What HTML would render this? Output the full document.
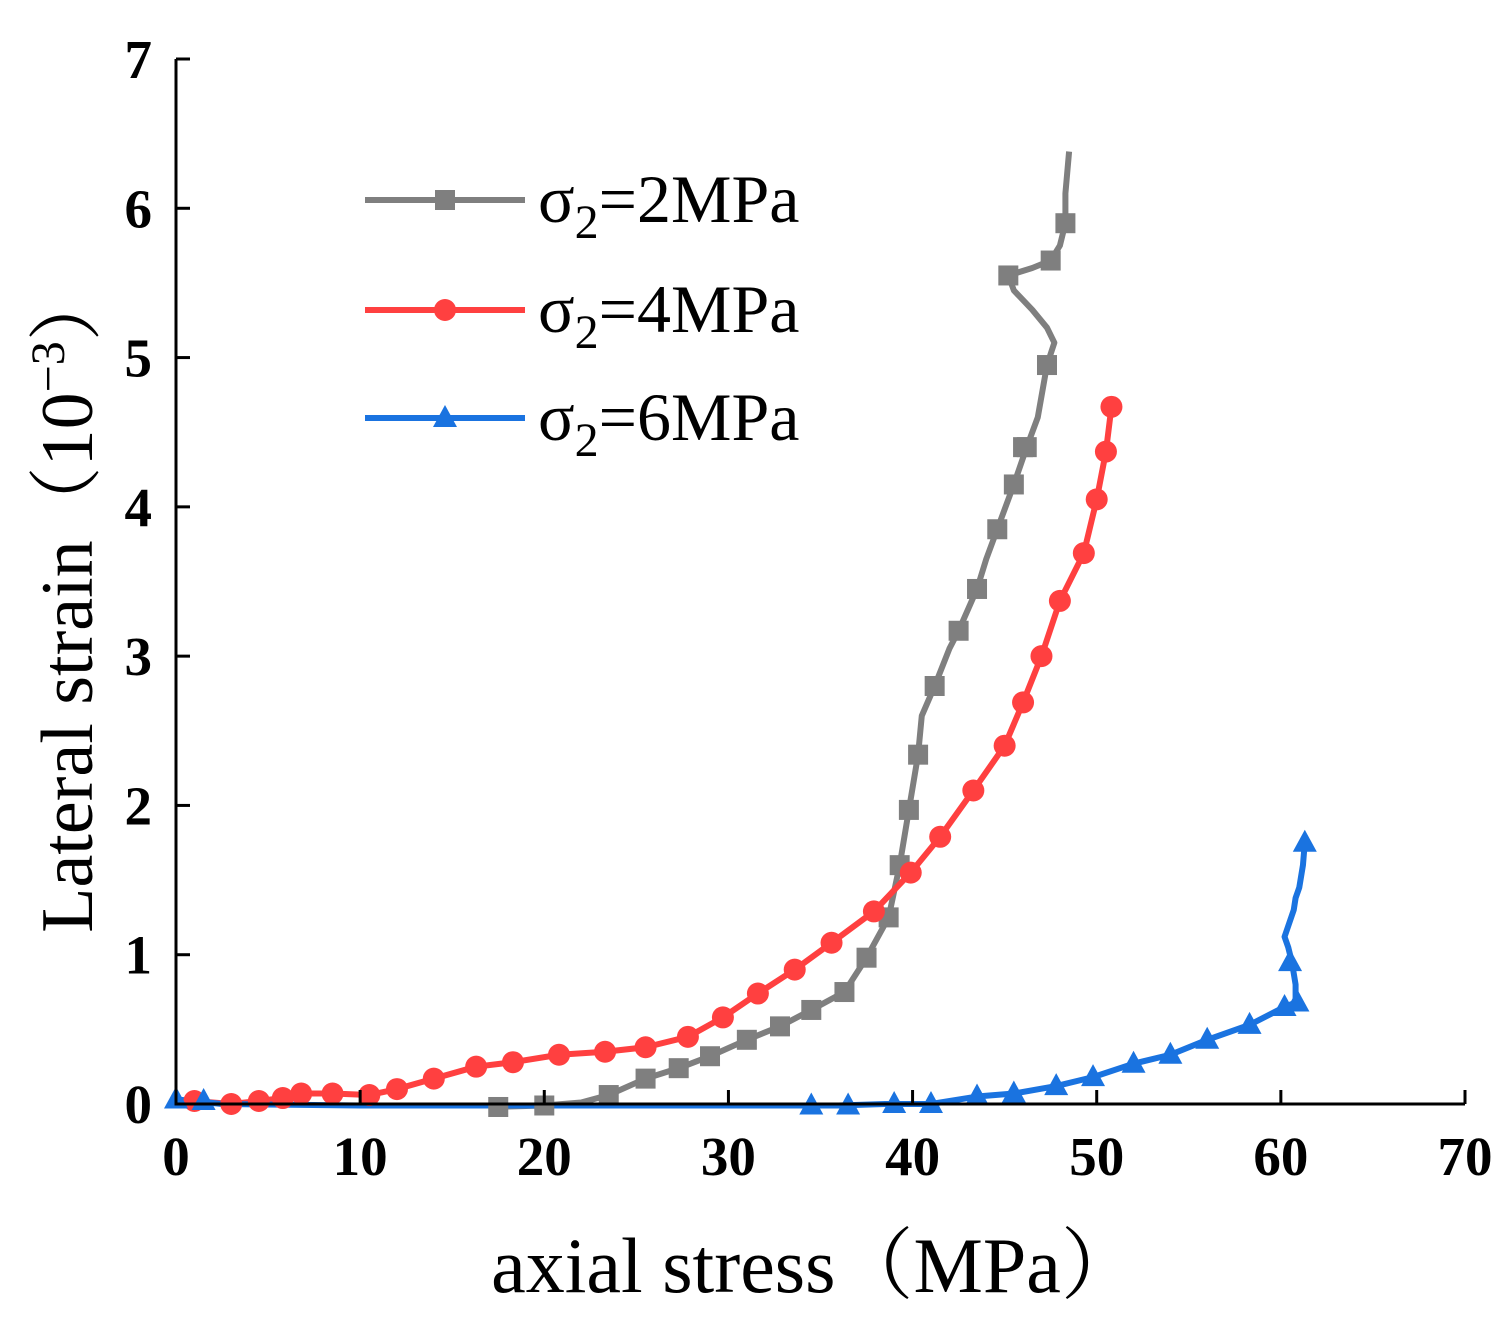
<!DOCTYPE html>
<html><head><meta charset="utf-8"><style>
html,body{margin:0;padding:0;background:#fff;}
svg{display:block;}
</style></head><body>
<svg id="chart" width="1509" height="1321" xmlns="http://www.w3.org/2000/svg">
<g id="plot"></g>
</svg>
<script>
const xTicks=[0,10,20,30,40,50,60,70];
const yTicks=[0,1,2,3,4,5,6,7];
const grayX=[17,20,22,23.5,25.5,27.3,29,31,32.8,34.5,36.3,37.5,38.7,39.3,39.8,40.3,40.5,41.2,42,42.5,43.5,44,44.6,45.5,46.2,46.8,47.3,47.7,47.3,46.5,45.5,45.2,46.5,47.5,48,48.3,48.3,48.5];
const grayY=[-0.02,-0.01,0.01,0.06,0.17,0.24,0.32,0.43,0.52,0.63,0.75,0.98,1.25,1.6,1.97,2.34,2.6,2.8,3.05,3.17,3.45,3.65,3.85,4.15,4.4,4.6,4.95,5.1,5.2,5.32,5.45,5.55,5.6,5.65,5.75,5.9,6.1,6.38];
const redX=[0,1,3,4.5,5.8,6.8,8.5,10.5,12,14,16.3,18.3,20.8,23.3,25.5,27.8,29.7,31.6,33.6,35.6,37.9,39.9,41.5,43.3,45,46,47,48,49.3,50,50.5,50.8];
const redY=[0.02,0.02,0,0.02,0.04,0.07,0.07,0.06,0.1,0.17,0.25,0.28,0.33,0.35,0.38,0.45,0.58,0.74,0.9,1.08,1.29,1.55,1.79,2.1,2.4,2.69,3,3.37,3.69,4.05,4.37,4.67];
const blueX=[0,1,2.5,10,20,30,34,36,38.5,41,43.5,45.5,47.8,49.8,52,54,56,58.3,60.2,60.8,60.8,60.6,60.4,60.2,60.7,60.8,61,61.2,61.3];
const blueY=[0.03,0.02,0,-0.01,-0.01,-0.01,-0.01,-0.01,0,0,0.05,0.07,0.12,0.18,0.27,0.33,0.43,0.53,0.65,0.68,0.8,0.95,1.05,1.12,1.3,1.38,1.45,1.6,1.75];
const grayM=[17.5,20,23.5,25.5,27.3,29,31,32.8,34.5,36.3,37.5,38.7,39.3,39.8,40.3,41.2,42.5,43.5,44.6,45.5,46.2,47.3,45.2,46,47.5,48.3];
const blueM=[0,1.5,34.5,36.5,39,41,43.5,45.5,47.8,49.8,52,54,56,58.3,60.5,60.2,60.9,61.3];
const X0=176,X1=1465,Y0=1104,Y1=59;
const sx=v=>X0+(X1-X0)*v/70, sy=v=>Y0-(Y0-Y1)*v/7;
const NS='http://www.w3.org/2000/svg';
const g=document.getElementById('plot');
function mk(t,a,p){const e=document.createElementNS(NS,t);for(const k in a)e.setAttribute(k,a[k]);(p||g).appendChild(e);return e;}
function interp(xs,ys,x){let best=0,bd=1e9;for(let i=0;i<xs.length;i++){const d=Math.abs(xs[i]-x);if(d<bd){bd=d;best=i;}}return ys[best];}
function series(xs,ys,color,name){
 const pts=xs.map((x,i)=>sx(x)+','+sy(ys[i])).join(' ');
 const l=mk('polyline',{points:pts,fill:'none',stroke:color,'stroke-width':6,'stroke-linejoin':'round'});
 
 
}
function marker(type,cx,cy,color,name){
 let e;
 if(type==='sq')e=mk('rect',{x:cx-10,y:cy-10,width:20,height:20,fill:color});
 else if(type==='ci')e=mk('circle',{cx:cx,cy:cy,r:11,fill:color});
 else e=mk('polygon',{points:`${cx},${cy-13} ${cx-12},${cy+9} ${cx+12},${cy+9}`,fill:color});
 
 
}
series(grayX,grayY,'#7f7f7f','gray-series');
series(redX,redY,'#ff4040','red-series');
series(blueX,blueY,'#1a73e0','blue-series');
grayM.forEach(x=>{const k=grayX.indexOf(x);const y=k>=0?grayY[k]:interp(grayX,grayY,x);marker('sq',sx(x),sy(y),'#7f7f7f','gray-marker');});
redX.forEach((x,i)=>{if(i>0)marker('ci',sx(x),sy(redY[i]),'#ff4040','red-marker');});
blueM.forEach(x=>{const y=interp(blueX,blueY,x);marker('tr',sx(x),sy(y),'#1a73e0','blue-marker');});
const ax=mk('path',{d:`M${X0},${Y1} L${X0},${Y0} L${X1},${Y0}`,fill:'none',stroke:'#000','stroke-width':3});


xTicks.forEach(v=>{
 mk('line',{x1:sx(v),x2:sx(v),y1:Y0,y2:Y0-14,stroke:'#000','stroke-width':3});
 const t=mk('text',{x:sx(v),y:1175,'text-anchor':'middle','font-family':'Liberation Serif, serif','font-weight':'bold','font-size':55});
 t.textContent=v;
 
 
});
yTicks.forEach(v=>{
 mk('line',{x1:X0,x2:X0+14,y1:sy(v),y2:sy(v),stroke:'#000','stroke-width':3});
 const t=mk('text',{x:152,y:sy(v)+19,'text-anchor':'end','font-family':'Liberation Serif, serif','font-weight':'bold','font-size':55});
 t.textContent=v;
 
 
});
const xt=mk('text',{x:800,y:1292,'text-anchor':'middle','font-family':'Liberation Serif, Noto Serif CJK SC, serif','font-size':78});
xt.setAttribute('x',815);
xt.textContent='axial stress（MPa）';


const yt=mk('text',{x:0,y:0,transform:'translate(92,600) rotate(-90)','text-anchor':'middle','font-family':'Liberation Serif, Noto Serif CJK SC, serif','font-size':74});
yt.innerHTML='Lateral strain（10<tspan dy="-28" font-size="48">−3</tspan><tspan dy="28">）</tspan>';


[['#7f7f7f','sq','2',200],['#ff4040','ci','4',310],['#1a73e0','tr','6',418]].forEach(([c,m,v,y])=>{
 const l=mk('line',{x1:365,x2:525,y1:y,y2:y,stroke:c,'stroke-width':6});
 
 
 marker(m,445,y,c,'legend-marker');
 const t=mk('text',{x:538,y:y+22,'font-family':'Liberation Serif, serif','font-size':68});
 t.innerHTML='σ<tspan dy="16" font-size="48">2</tspan><tspan dy="-16">='+v+'MPa</tspan>';
 
 
});
</script>
</body></html>
